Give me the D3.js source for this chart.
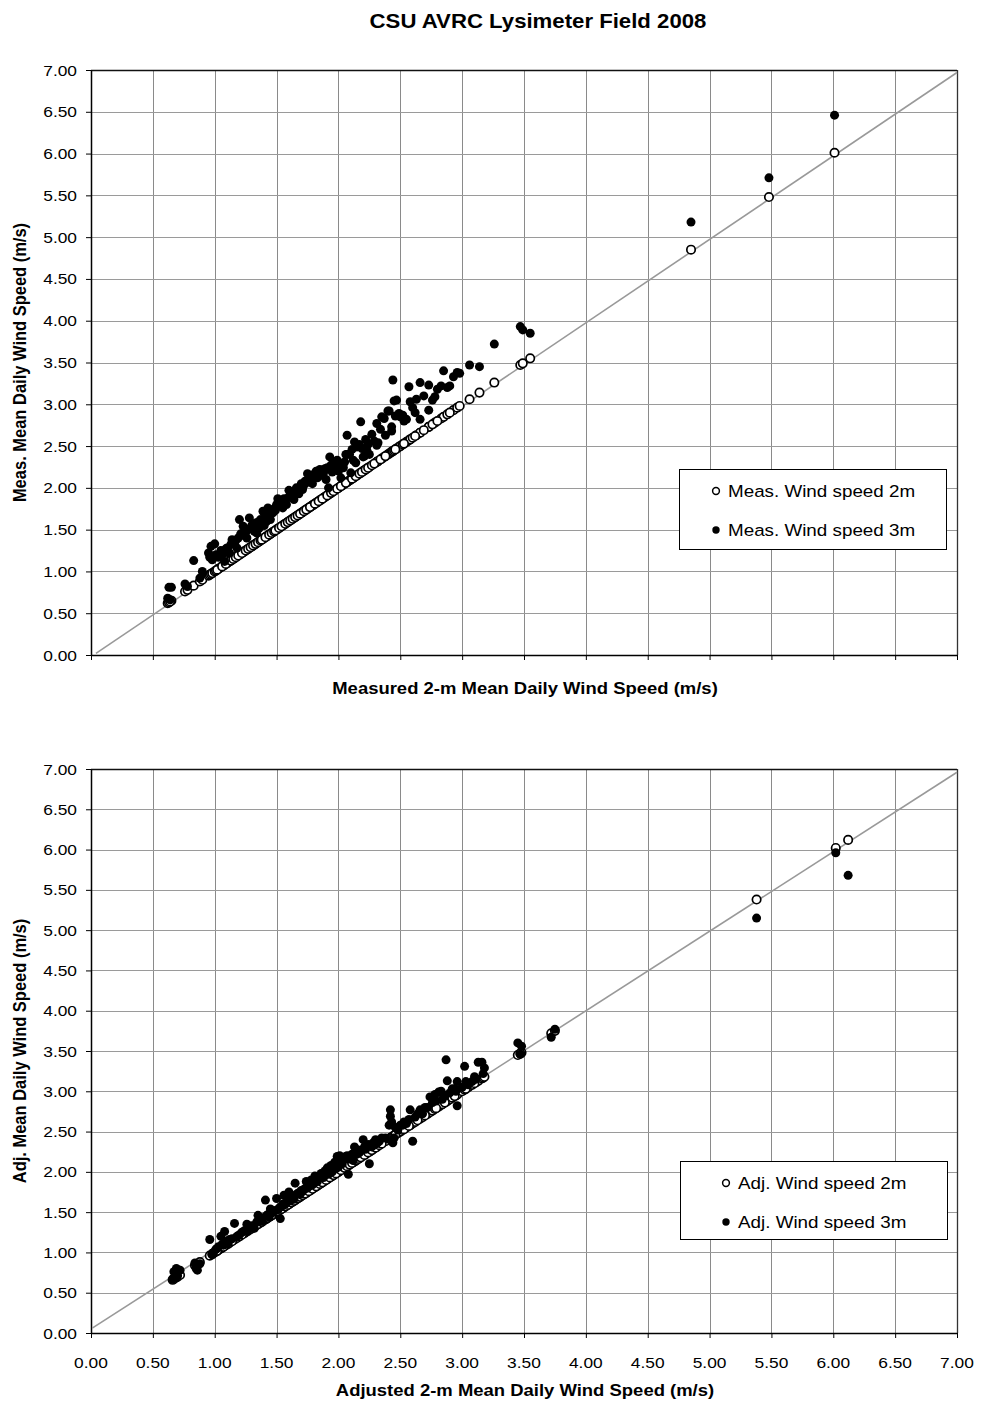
<!DOCTYPE html>
<html>
<head>
<meta charset="utf-8">
<script src="https://cdn.jsdelivr.net/npm/d3@7"></script>
<style>
  html, body { margin: 0; padding: 0; background: #fff; }
  svg { display: block; }
  text { font-family: "Liberation Sans", Arial, Helvetica, sans-serif; fill: #000; }
</style>
</head>
<body>
<svg id="chart" width="982" height="1406"></svg>
<script>
// ---------------- DATA ----------------
const chartTitle = "CSU AVRC Lysimeter Field 2008";
const tickValues = [0, 0.5, 1, 1.5, 2, 2.5, 3, 3.5, 4, 4.5, 5, 5.5, 6, 6.5, 7];
const tickLabels = ["0.00","0.50","1.00","1.50","2.00","2.50","3.00","3.50","4.00","4.50","5.00","5.50","6.00","6.50","7.00"];

// Top panel: measured 2-m (x, and open circles on y) vs measured 3-m (filled)
const measWs2m = [0.62,0.63,0.65,0.64,0.76,0.78,0.83,0.88,0.90,0.95,0.96,0.97,0.98,1.00,1.01,1.03,1.05,1.07,1.08,1.10,
  1.12,1.14,1.16,1.18,1.20,1.21,1.23,1.24,1.26,1.28,1.30,1.32,1.34,1.36,1.39,1.40,1.42,1.43,1.45,1.47,
  1.50,1.51,1.53,1.55,1.56,1.58,1.60,1.62,1.64,1.66,1.68,1.70,1.71,1.73,1.75,1.76,1.78,1.79,1.80,1.82,
  1.83,1.85,1.86,1.88,1.89,1.90,1.92,1.93,1.95,1.97,2.00,2.01,2.03,2.04,2.05,2.07,2.07,2.09,2.10,2.12,
  2.13,2.15,2.18,2.20,2.21,2.23,2.25,2.31,2.31,2.32,2.35,2.37,2.40,2.41,2.43,2.43,2.44,2.45,2.47,2.49,
  2.50,2.52,2.55,2.57,2.58,2.60,2.63,2.66,2.66,2.73,2.73,2.78,2.83,2.85,2.88,2.93,2.96,2.98,3.06,3.14,
  3.26,3.47,3.49,3.55,4.85,5.48,6.01,
  1.02,1.06,1.09,1.13,1.15,1.17,1.19,1.22,1.25,1.27,1.29,1.31,1.33,1.35,1.37,1.38,1.41,1.44,1.46,1.48,
  1.49,1.52,1.54,1.57,1.59,1.61,1.63,1.65,1.67,1.69,1.72,1.74,1.77,1.81,1.84,1.87,1.91,1.94,1.96,1.99,
  2.02,2.06,2.11,2.14,2.17,2.19,2.22,2.24,2.27,2.29,2.34,2.38,2.46,2.53,2.62,2.69,2.76,2.80,2.90];
const measWs3m = [0.68,0.81,0.81,0.66,0.85,0.82,1.13,0.92,1.00,1.22,1.17,1.30,1.14,1.33,1.20,1.17,1.25,1.21,1.12,1.28,
  1.22,1.38,1.33,1.28,1.62,1.45,1.54,1.43,1.40,1.64,1.55,1.48,1.46,1.52,1.72,1.55,1.60,1.76,1.62,1.70,
  1.80,1.87,1.84,1.76,1.87,1.80,1.97,1.92,1.86,2.00,1.93,2.05,1.98,2.08,2.17,2.10,2.13,2.05,2.16,2.20,
  2.12,2.22,2.15,2.18,2.23,2.10,2.00,2.37,2.19,2.22,2.20,2.29,2.27,2.24,2.31,2.63,2.40,2.40,2.18,2.33,
  2.55,2.49,2.79,2.37,2.38,2.45,2.40,2.77,2.51,2.54,2.85,2.83,2.92,2.92,2.68,2.73,3.29,3.04,3.05,2.89,
  2.85,2.87,2.82,3.21,3.03,2.96,3.06,3.26,2.82,3.23,2.93,3.09,3.22,3.40,3.20,3.33,3.38,3.37,3.47,3.45,
  3.72,3.93,3.89,3.85,5.18,5.71,6.46,
  1.18,1.24,1.27,1.32,1.36,1.37,1.40,1.44,1.47,1.50,1.52,1.55,1.58,1.59,1.62,1.60,1.66,1.70,1.72,1.75,
  1.73,1.79,1.82,1.85,1.88,1.90,1.93,1.95,1.97,2.00,2.03,2.06,2.09,2.14,2.17,2.20,2.24,2.27,2.30,2.33,
  2.12,2.40,2.46,2.30,2.52,2.47,2.58,2.52,2.64,2.56,2.70,2.63,2.86,2.80,2.90,3.10,3.05,3.18,3.22];

// Bottom panel: adjusted 2-m (x, and open circles on y) vs adjusted 3-m (filled)
const adjWs2m = [0.66,0.67,0.69,0.70,0.72,0.84,0.85,0.86,0.88,0.96,0.98,0.99,1.01,1.03,1.05,1.06,1.08,1.10,1.12,1.16,
  1.18,1.20,1.24,1.26,1.27,1.30,1.32,1.35,1.37,1.39,1.41,1.42,1.44,1.45,1.47,1.49,1.50,1.52,1.53,1.55,
  1.56,1.58,1.60,1.61,1.63,1.65,1.66,1.68,1.70,1.72,1.74,1.75,1.77,1.78,1.80,1.81,1.83,1.84,1.86,1.88,
  1.89,1.91,1.92,1.94,1.95,1.97,1.99,2.00,2.01,2.03,2.04,2.06,2.08,2.10,2.12,2.13,2.15,2.17,2.20,2.22,
  2.25,2.26,2.28,2.31,2.38,2.41,2.42,2.42,2.43,2.44,2.45,2.48,2.50,2.52,2.55,2.58,2.60,2.62,2.66,2.68,
  2.72,2.74,2.76,2.78,2.81,2.83,2.84,2.87,2.88,2.90,2.92,2.95,2.96,2.96,3.00,3.02,3.05,3.08,3.11,3.13,
  3.16,3.17,3.18,3.45,3.48,3.47,3.72,3.75,5.38,6.02,6.12,
  1.02,1.07,1.11,1.14,1.22,1.29,1.34,1.38,1.43,1.46,1.51,1.54,1.57,1.59,1.62,1.64,1.67,1.69,1.71,1.73,
  1.76,1.79,1.82,1.85,1.87,1.90,1.93,1.96,1.98,2.02,2.05,2.07,2.09,2.11,2.14,2.16,2.18,2.21,2.24,2.27,
  2.30,2.33,2.35,2.46,2.53,2.57,2.64,2.70,2.79,2.86,2.94,3.03,3.10];
const adjWs3m = [0.67,0.76,0.80,0.71,0.78,0.87,0.80,0.78,0.86,1.16,0.97,1.00,1.04,1.07,1.20,1.10,1.26,1.14,1.16,1.36,
  1.20,1.22,1.27,1.35,1.28,1.33,1.30,1.46,1.40,1.43,1.65,1.46,1.44,1.54,1.50,1.52,1.67,1.55,1.42,1.60,
  1.71,1.62,1.75,1.64,1.70,1.86,1.72,1.74,1.77,1.78,1.88,1.80,1.83,1.90,1.86,1.95,1.88,1.92,1.98,1.93,
  2.01,2.05,1.97,2.08,2.00,2.12,2.19,2.06,2.20,2.10,2.15,2.19,1.97,2.20,2.14,2.31,2.22,2.24,2.40,2.28,
  2.10,2.33,2.36,2.35,2.42,2.58,2.77,2.69,2.62,2.36,2.42,2.52,2.58,2.58,2.60,2.77,2.38,2.68,2.77,2.72,
  2.80,2.93,2.86,2.96,2.99,3.00,2.90,3.39,3.13,2.98,3.03,3.00,3.12,2.82,3.05,3.31,3.08,3.12,3.15,3.36,
  3.36,3.22,3.29,3.60,3.56,3.46,3.67,3.77,5.15,5.96,5.68,
  1.05,1.09,1.12,1.17,1.25,1.30,1.38,1.39,1.47,1.49,1.53,1.57,1.60,1.63,1.68,1.66,1.73,1.72,1.76,1.79,
  1.82,1.84,1.89,1.93,1.96,2.00,2.02,2.07,2.04,2.12,2.17,2.20,2.16,2.22,2.25,2.27,2.26,2.31,2.34,2.31,
  2.40,2.38,2.42,2.55,2.62,2.65,2.72,2.80,2.88,2.95,3.03,3.12,3.18];

// 1:1 reference line end points (as drawn)
const topRefLine = [[0.04, 0.02], [7.0, 6.97]];
const botRefLine = [[0.01, 0.06], [7.0, 6.96]];

const panels = [
  { x2: measWs2m, y3: measWs3m, ref: topRefLine, top: 70, bottom: 655,
    yTitle: "Meas. Mean Daily Wind Speed (m/s)", xTitle: "Measured 2-m Mean Daily Wind Speed (m/s)",
    xLabels: false, legend: ["Meas. Wind speed 2m", "Meas. Wind speed 3m"],
    legendBox: { x: 679, y: 469, w: 267, h: 80, mx: 716 } },
  { x2: adjWs2m, y3: adjWs3m, ref: botRefLine, top: 769, bottom: 1333,
    yTitle: "Adj. Mean Daily Wind Speed (m/s)", xTitle: "Adjusted 2-m Mean Daily Wind Speed (m/s)",
    xLabels: true, legend: ["Adj. Wind speed 2m", "Adj. Wind speed 3m"],
    legendBox: { x: 680, y: 1161, w: 267, h: 78, mx: 726 } }
];

// ---------------- DRAW ----------------
const svg = d3.select("#chart");
const SX = 1.12; // horizontal stretch of the original rendering
const left = 91, right = 957;

function addText(parent, x, y, str, opts = {}) {
  const g = parent.append("g")
    .attr("transform", `translate(${x},${y}) scale(${SX},1)` + (opts.rotate ? ` rotate(${opts.rotate})` : ""));
  g.append("text")
    .attr("text-anchor", opts.anchor || "start")
    .style("font-size", (opts.size || 16) + "px")
    .style("font-weight", opts.bold ? "bold" : "normal")
    .text(str);
  return g;
}

addText(svg, 538, 28, chartTitle, { anchor: "middle", size: 19.8, bold: true });

panels.forEach(p => {
  const x = d3.scaleLinear().domain([0, 7]).range([left, right]);
  const y = d3.scaleLinear().domain([0, 7]).range([p.bottom, p.top]);
  const g = svg.append("g");

  // gridlines
  g.append("g").selectAll("line.v").data(tickValues.slice(1, -1)).join("line")
    .attr("x1", d => Math.round(x(d)) + 0.5).attr("x2", d => Math.round(x(d)) + 0.5)
    .attr("y1", p.top).attr("y2", p.bottom)
    .attr("stroke", "#8a8a8a").attr("stroke-width", 1);
  g.append("g").selectAll("line.h").data(tickValues.slice(1, -1)).join("line")
    .attr("y1", d => Math.round(y(d)) + 0.5).attr("y2", d => Math.round(y(d)) + 0.5)
    .attr("x1", left).attr("x2", right)
    .attr("stroke", "#9a9a9a").attr("stroke-width", 1.2);

  // plot border (top/right)
  g.append("line").attr("x1", left).attr("x2", right).attr("y1", p.top + 0.5).attr("y2", p.top + 0.5)
    .attr("stroke", "#111").attr("stroke-width", 1.3);
  g.append("line").attr("x1", right + 0.5).attr("x2", right + 0.5).attr("y1", p.top).attr("y2", p.bottom)
    .attr("stroke", "#333").attr("stroke-width", 1.3);

  // axes
  const yAxis = d3.axisLeft(y).tickValues(tickValues).tickSize(5).tickSizeOuter(0).tickFormat("");
  const xAxis = d3.axisBottom(x).tickValues(tickValues).tickSize(5).tickSizeOuter(0).tickFormat("");
  const ya = g.append("g").attr("transform", `translate(${left},0)`).call(yAxis);
  const xa = g.append("g").attr("transform", `translate(0,${p.bottom})`).call(xAxis);
  [ya, xa].forEach(a => {
    a.select(".domain").attr("stroke", "#000").attr("stroke-width", 1.5);
    a.selectAll(".tick line").attr("stroke", "#000").attr("stroke-width", 1);
  });

  // y tick labels
  tickValues.forEach((v, i) => addText(g, 77, y(v) + 5.5, tickLabels[i], { anchor: "end", size: 15.5 }));
  if (p.xLabels) {
    tickValues.forEach((v, i) => addText(g, x(v), p.bottom + 35, tickLabels[i], { anchor: "middle", size: 15.5 }));
  }

  // axis titles
  addText(g, 525, p.xLabels ? p.bottom + 63 : p.bottom + 39, p.xTitle, { anchor: "middle", size: 16.5, bold: true });
  addText(g, 26, (p.top + p.bottom) / 2, p.yTitle, { anchor: "middle", size: 16.5, bold: true, rotate: -90 });

  // 1:1 line
  g.append("line")
    .attr("x1", x(p.ref[0][0])).attr("y1", y(p.ref[0][1]))
    .attr("x2", x(p.ref[1][0])).attr("y2", y(p.ref[1][1]))
    .attr("stroke", "#999").attr("stroke-width", 1.6);

  // 2 m series (open circles)
  g.append("g").selectAll("circle").data(p.x2).join("circle")
    .attr("cx", d => x(d)).attr("cy", d => y(d)).attr("r", 4.2)
    .attr("fill", "#fff").attr("stroke", "#000").attr("stroke-width", 1.7);
  // 3 m series (filled)
  g.append("g").selectAll("circle").data(p.y3).join("circle")
    .attr("cx", (d, i) => x(p.x2[i])).attr("cy", d => y(d)).attr("r", 4.5)
    .attr("fill", "#000");

  // legend
  const lb = p.legendBox;
  g.append("rect").attr("x", lb.x + 0.5).attr("y", lb.y + 0.5).attr("width", lb.w).attr("height", lb.h)
    .attr("fill", "#fff").attr("stroke", "#000").attr("stroke-width", 1);
  const row1 = lb.y + 22, row2 = lb.y + 61;
  g.append("circle").attr("cx", lb.mx).attr("cy", row1).attr("r", 3.4)
    .attr("fill", "#fff").attr("stroke", "#000").attr("stroke-width", 1.5);
  g.append("circle").attr("cx", lb.mx).attr("cy", row2).attr("r", 3.7).attr("fill", "#000");
  addText(g, lb.mx + 12, row1 + 6, p.legend[0], { size: 16.8 });
  addText(g, lb.mx + 12, row2 + 6, p.legend[1], { size: 16.8 });
});
</script>
</body>
</html>
